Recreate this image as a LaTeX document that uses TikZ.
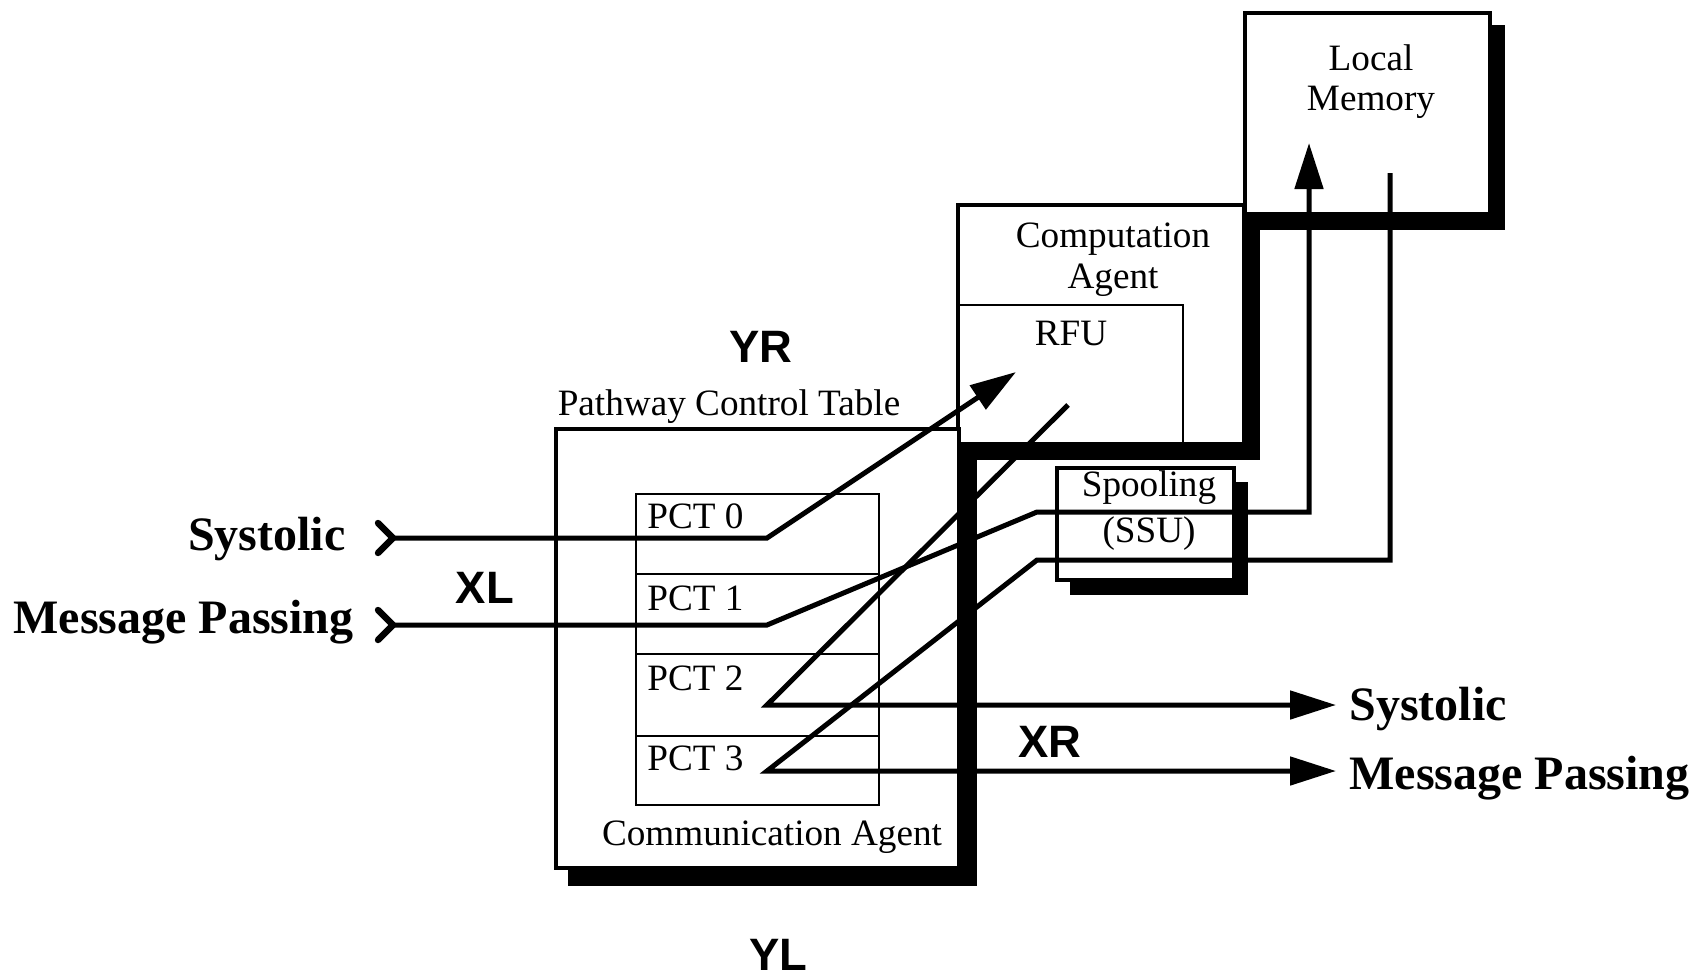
\documentclass[tikz,border=0pt]{standalone}
\usepackage{fontspec}
\setmainfont{Liberation Serif}
\newfontfamily\hsans{Liberation Sans}
\usetikzlibrary{arrows.meta}
\begin{document}
\begin{tikzpicture}[x=0.5pt,y=-0.5pt,
  shade/.style={fill=black},
  box/.style={draw, line width=1.8pt, fill=white, inner sep=0pt, anchor=north west},
  thinbox/.style={draw, line width=1.1pt, inner sep=0pt, anchor=north west},
  sig/.style={line width=2.5pt},
  arr/.style={sig, -{Triangle[length=23pt,width=14pt]}},
  lbl/.style={font=\fontsize{18.6}{20}\selectfont, inner sep=0pt},
  big/.style={font=\fontsize{24}{26}\selectfont\bfseries, inner sep=0pt},
  axislbl/.style={font=\hsans\fontsize{22.7}{24}\selectfont\bfseries, inner sep=0pt},
  chev/.style={line width=3.2pt, line cap=round, line join=round}]
\useasboundingbox (0,0) rectangle (1703,980);

% shadows
\fill[shade] (1243,25) rectangle (1505,230);
\fill[shade] (956,215) rectangle (1260,460);
\fill[shade] (568,440) rectangle (977,886);
\fill[shade] (1070,482) rectangle (1248,595);

% boxes
\node[box, minimum width=122.5pt, minimum height=100.5pt] (lm) at (1243,11) {};
\node[box, minimum width=143pt, minimum height=119.5pt] (comp) at (956,203) {};
\node[thinbox, minimum width=113pt, minimum height=69pt] (rfu) at (956,304) {};
\node[box, minimum width=201.5pt, minimum height=219.5pt] (comm) at (554,427) {};
\node[box, minimum width=88.5pt, minimum height=56pt] (spool) at (1055,466) {};

% PCT table
\node[thinbox, minimum width=121.5pt, minimum height=40pt] (pct0) at (635,493) {};
\node[thinbox, minimum width=121.5pt, minimum height=40pt] (pct1) at (635,573) {};
\node[thinbox, minimum width=121.5pt, minimum height=41pt] (pct2) at (635,653) {};
\node[thinbox, minimum width=121.5pt, minimum height=34.5pt] (pct3) at (635,735) {};

% texts
\node[lbl, align=center] (lmt) at (1371,82) {Local\\Memory};
\node[lbl, align=center] (compt) at (1113,260) {Computation\\[0.5pt]Agent};
\node[lbl, anchor=base] (rfut) at (1071,345) {RFU};
\node[lbl, align=center] (spoolt) at (1149,511) {Spooling\\[3pt](SSU)};
\node[lbl, anchor=base] (pctt) at (729,415) {Pathway Control Table};
\node[lbl, anchor=base] (commt) at (772,845) {Communication Agent};
\node[lbl, anchor=base west] (p0) at (647,528) {PCT 0};
\node[lbl, anchor=base west] (p1) at (647,610) {PCT 1};
\node[lbl, anchor=base west] (p2) at (647,690) {PCT 2};
\node[lbl, anchor=base west] (p3) at (647,770) {PCT 3};

\node[big, anchor=base east] (sysl) at (346,550) {Systolic};
\node[big, anchor=base east] (msgl) at (354,633) {Message Passing};
\node[big, anchor=base west] (sysr) at (1349,720) {Systolic};
\node[big, anchor=base west] (msgr) at (1349,789) {Message Passing};

\node[axislbl, anchor=base] (xl) at (485,603) {XL};
\node[axislbl, anchor=base] (yr) at (761,362) {YR};
\node[axislbl, anchor=base] (yl) at (778,970) {YL};
\node[axislbl, anchor=base] (xr) at (1050,757) {XR};

% coordinates of connectors
\coordinate (sysIn) at (393,538);
\coordinate (sysA) at (378,523);
\coordinate (sysC) at (378,553);
\coordinate (msgIn) at (393,625);
\coordinate (msgA) at (378,610);
\coordinate (msgC) at (378,640);
\coordinate (b0) at (767,538);
\coordinate (rfuTip) at (1016,372);
\coordinate (b1) at (767,625);
\coordinate (b1u) at (1037,512);
\coordinate (b1r) at (1309,512);
\coordinate (lmTip) at (1309,143);
\coordinate (p2s) at (1068,405);
\coordinate (b2) at (767,705);
\coordinate (sysOut) at (1336,705);
\coordinate (lmOut) at (1390,173);
\coordinate (b3r) at (1390,560);
\coordinate (b3u) at (1037,560);
\coordinate (b3) at (767,771);
\coordinate (msgOut) at (1336,771);

% chevrons
\draw[chev] (sysA) -- (sysIn) -- (sysC);
\draw[chev] (msgA) -- (msgIn) -- (msgC);

% connectors
\draw[arr] (sysIn) -- (b0) -- (rfuTip);
\draw[arr] (msgIn) -- (b1) -- (b1u) -- (b1r) -- (lmTip);
\draw[arr] (p2s) -- (b2) -- (sysOut);
\draw[arr] (lmOut) -- (b3r) -- (b3u) -- (b3) -- (msgOut);
\end{tikzpicture}
\end{document}
